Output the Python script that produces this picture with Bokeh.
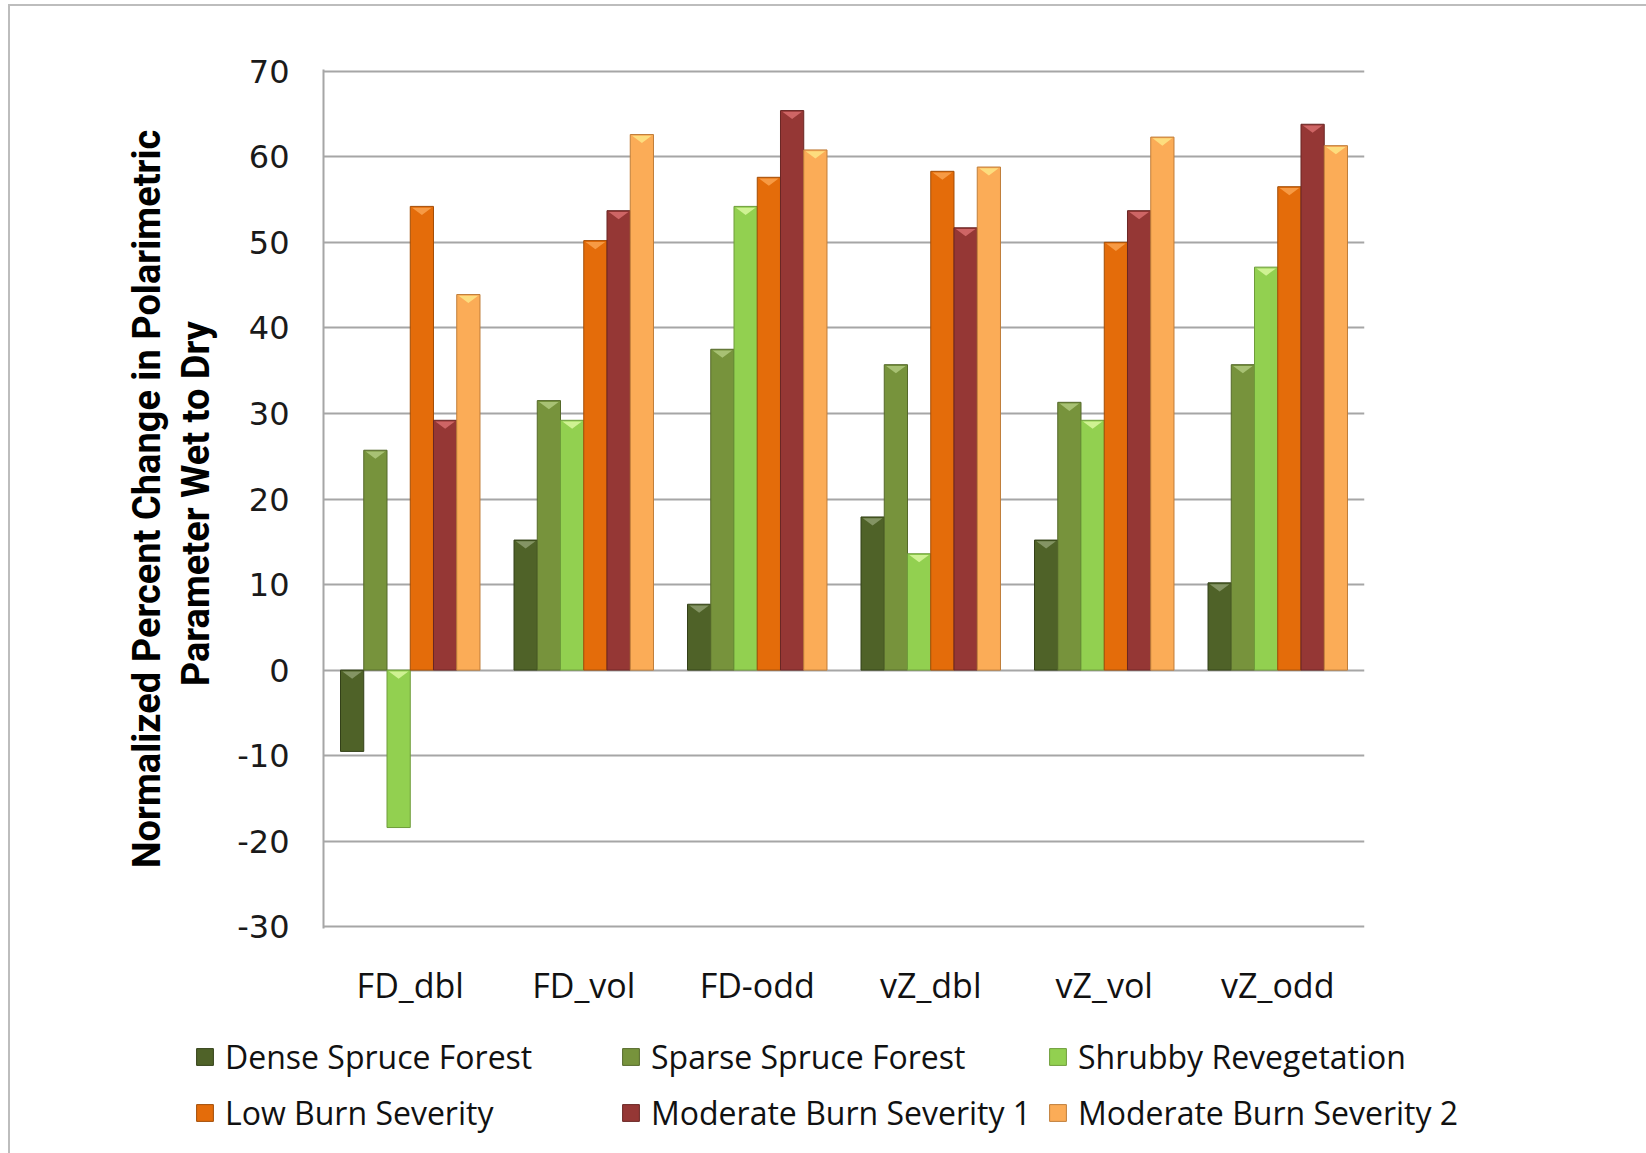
import numpy as np
from bokeh.plotting import figure
from bokeh.layouts import column
from bokeh.models import FixedTicker, Legend, LegendItem
from bokeh.embed import file_html
from bokeh.resources import INLINE

# Polarimetric parameters (x categories)
categories = ["FD_dbl", "FD_vol", "FD-odd", "vZ_dbl", "vZ_vol", "vZ_odd"]

# Normalized percent change, wet to dry, per land-cover class
dense_spruce = [-9.5, 15.2, 7.7, 17.9, 15.2, 10.2]
sparse_spruce = [25.7, 31.5, 37.5, 35.7, 31.3, 35.7]
shrubby_reveg = [-18.4, 29.2, 54.2, 13.6, 29.2, 47.1]
low_burn = [54.2, 50.2, 57.6, 58.3, 50.0, 56.5]
moderate_burn_1 = [29.2, 53.7, 65.4, 51.7, 53.7, 63.8]
moderate_burn_2 = [43.9, 62.6, 60.8, 58.8, 62.3, 61.3]

series_names = ["Dense Spruce Forest", "Sparse Spruce Forest", "Shrubby Revegetation",
                "Low Burn Severity", "Moderate Burn Severity 1", "Moderate Burn Severity 2"]
series_values = [dense_spruce, sparse_spruce, shrubby_reveg,
                 low_burn, moderate_burn_1, moderate_burn_2]
fill_colors = ["#4f6228", "#77933c", "#92d050", "#e46c0a", "#953735", "#fbac57"]
edge_colors = ["#334018", "#55692a", "#6e9c3a", "#a34d06", "#6a2624", "#c07e3a"]
cap_colors = ["#8a9a6a", "#adc77a", "#d6f59a", "#f8a04a", "#d46a6a", "#fde283"]

y_ticks = list(range(-30, 71, 10))

W = 1646
H_CHART, H_LEGEND = 1010, 143

p = figure(width=W, height=H_CHART, output_backend="svg", toolbar_location=None,
           x_range=(-0.5, 5.5), y_range=(-30.2, 70.2),
           min_border_left=323, min_border_right=282,
           min_border_top=69, min_border_bottom=H_CHART - 929)
p.outline_line_color = None
p.background_fill_color = "white"
p.border_fill_alpha = 0

# y axis
p.yaxis.ticker = FixedTicker(ticks=y_ticks)
p.yaxis.major_label_overrides = {t: str(t) for t in y_ticks}
p.yaxis.major_tick_out = 0
p.yaxis.major_tick_in = 0
p.yaxis.minor_tick_line_color = None
p.yaxis.major_label_standoff = 34
p.yaxis.major_label_text_font = "DejaVu Sans"
p.yaxis.major_label_text_font_size = "32px"
p.yaxis.major_label_text_color = "#1a1a1a"
p.yaxis.axis_line_color = "#a6a6a6"
p.yaxis.axis_line_width = 2
p.yaxis.axis_label = "Normalized Percent Change in Polarimetric\nParameter  Wet to Dry"
p.yaxis.axis_label_text_font = "Roboto"
p.yaxis.axis_label_text_font_style = "bold"
p.yaxis.axis_label_text_font_size = "38px"
p.yaxis.axis_label_text_line_height = 1.13
p.yaxis.axis_label_text_color = "#000000"
p.yaxis.axis_label_standoff = 16

# x axis
p.xaxis.ticker = FixedTicker(ticks=list(range(len(categories))))
p.xaxis.major_label_overrides = {i: c for i, c in enumerate(categories)}
p.xaxis.major_tick_out = 0
p.xaxis.major_tick_in = 0
p.xaxis.minor_tick_line_color = None
p.xaxis.axis_line_color = None
p.xaxis.major_label_standoff = 33
p.xaxis.major_label_text_font = "Open Sans"
p.xaxis.major_label_text_font_size = "34px"
p.xaxis.major_label_text_color = "#111111"

p.xgrid.grid_line_color = None
p.ygrid.ticker = FixedTicker(ticks=y_ticks)
p.ygrid.grid_line_color = "#a6a6a6"
p.ygrid.grid_line_width = 2

# grouped bars, each with a lighter bevel triangle on its upper face
bar_w = 0.134
cap_depth = 1.0
idx = np.arange(len(categories))
for k, (name, vals) in enumerate(zip(series_names, series_values)):
    xs = idx + (k - 2.5) * bar_w
    p.vbar(x=xs, top=vals, bottom=0, width=bar_w,
           fill_color=fill_colors[k], line_color=edge_colors[k], line_width=1)
    face = np.maximum(np.asarray(vals, dtype=float), 0.0)
    tri_x = [[x - bar_w * 0.42, x + bar_w * 0.42, x] for x in xs]
    tri_y = [[f - 0.15, f - 0.15, f - cap_depth] for f in face]
    p.patches(tri_x, tri_y, fill_color=cap_colors[k], line_color=None, fill_alpha=0.9)

# legend strip under the chart: three columns of two entries
leg_fig = figure(width=W, height=H_LEGEND, output_backend="svg", toolbar_location=None,
                 x_range=(0, 1), y_range=(0, 1), min_border=0)
for fig in (p, leg_fig):
    if "frame_align" in fig.properties():
        fig.frame_align = False
leg_fig.axis.visible = False
leg_fig.grid.visible = False
leg_fig.outline_line_color = None
leg_fig.background_fill_alpha = 0
leg_fig.border_fill_alpha = 0
# swatch renderers sit outside the visible range; they only feed the legend glyphs
swatches = [leg_fig.vbar(x=[5], top=[5], bottom=[4], width=0.1, fill_color=fill_colors[k],
                         line_color=edge_colors[k], line_width=1)
            for k in range(len(series_names))]

col_left = [194, 620, 1047]
for cx, (a, b) in zip(col_left, [(0, 3), (1, 4), (2, 5)]):
    leg = Legend(items=[LegendItem(label=series_names[a], renderers=[swatches[a]]),
                        LegendItem(label=series_names[b], renderers=[swatches[b]])],
                 location=(cx, 19), orientation="vertical",
                 glyph_width=21, glyph_height=21, label_standoff=10,
                 label_height=40, spacing=13, padding=0, margin=0,
                 label_text_font="Open Sans", label_text_font_size="32px",
                 label_text_color="#111111",
                 border_line_color=None, background_fill_alpha=0)
    leg_fig.add_layout(leg, "center")

layout = column(p, leg_fig, spacing=0)
# thin frame lines along the top and left of the chart area
layout.styles = {
    "background-color": "white",
    "background-image": "linear-gradient(#bdbdbd, #bdbdbd), linear-gradient(#bdbdbd, #bdbdbd)",
    "background-size": "calc(100% - 9px) 2px, 2px calc(100% - 4px)",
    "background-position": "9px 4px, 8px 4px",
    "background-repeat": "no-repeat",
}

open("out.html", "w").write(file_html(layout, INLINE))
